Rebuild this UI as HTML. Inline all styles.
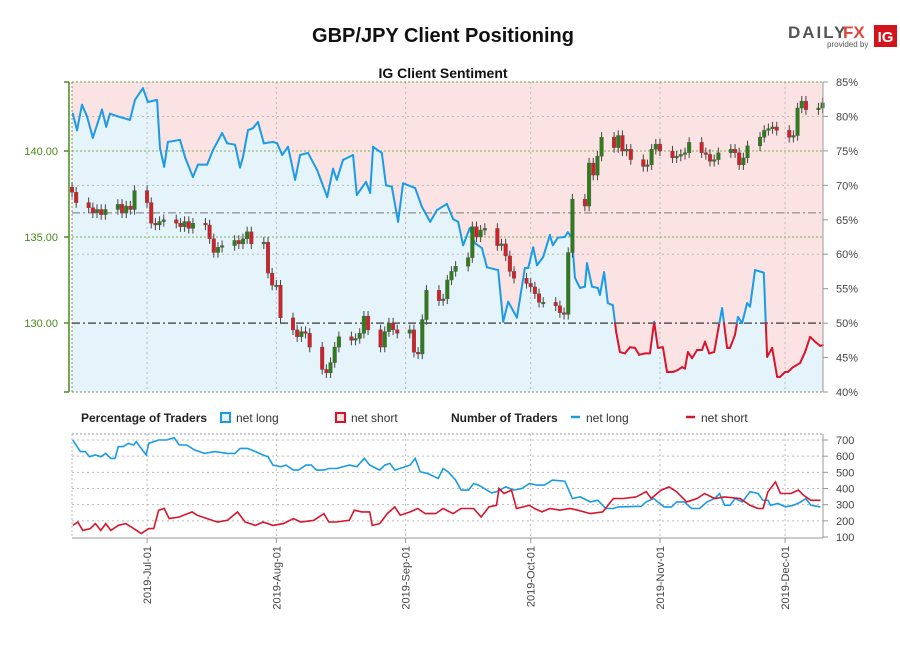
<!DOCTYPE html>
<html><head><meta charset="utf-8"><style>
body{margin:0;background:#fff;width:900px;height:650px;overflow:hidden;font-family:"Liberation Sans",sans-serif}
svg text{font-family:"Liberation Sans",sans-serif}
</style></head><body>
<svg id="c" width="900" height="650" viewBox="0 0 900 650">
<text x="443" y="42" text-anchor="middle" font-size="20" font-weight="bold" fill="#111">GBP/JPY Client Positioning</text>
<text x="443" y="78" text-anchor="middle" font-size="14" font-weight="bold" fill="#111">IG Client Sentiment</text>
<g>
<text x="788" y="38" font-size="17" font-weight="bold" fill="#555" letter-spacing="2">DAILY</text>
<text x="843" y="38" font-size="17" font-weight="bold" fill="#e0443a">FX</text>
<text x="827" y="47" font-size="8" fill="#555">provided by</text>
<rect x="874" y="25" width="23" height="22" fill="#d4141b"/>
<text x="885.5" y="42" text-anchor="middle" font-size="15" font-weight="bold" fill="#fff">IG</text>
</g>
<g id="main"></g>
<g id="legend">
<text x="81" y="422" font-size="12" font-weight="bold" fill="#222">Percentage of Traders</text>
<rect x="221" y="413" width="9" height="9" fill="#e5f3fb" stroke="#1a9be6" stroke-width="2"/>
<text x="236" y="422" font-size="12" fill="#333">net long</text>
<rect x="336" y="413" width="9" height="9" fill="#fbe3e4" stroke="#d9142b" stroke-width="2"/>
<text x="351" y="422" font-size="12" fill="#333">net short</text>
<text x="451" y="422" font-size="12" font-weight="bold" fill="#222">Number of Traders</text>
<line x1="571" y1="417" x2="580" y2="417" stroke="#1a9be6" stroke-width="2.5"/>
<text x="586" y="422" font-size="12" fill="#333">net long</text>
<line x1="686" y1="417" x2="695" y2="417" stroke="#d9142b" stroke-width="2.5"/>
<text x="701" y="422" font-size="12" fill="#333">net short</text>
</g>
<g id="bottom"></g>
</svg>
<script>
// ---- data ----
const sentDays=[0.2,1.2,2.4,3.6,5.0,7.2,8.2,9.1,11.0,13.9,15.1,17.0,18.2,20.4,21.1,22.1,23.0,25.9,27.1,29.0,30.2,32.4,33.8,36.0,37.2,39.1,40.3,41.0,42.2,43.4,44.6,46.0,48.2,49.2,50.4,51.8,53.5,54.7,56.6,58.8,61.2,62.6,63.5,65.0,67.4,68.3,70.5,71.5,72.2,74.3,75.3,76.7,78.2,79.4,82.3,83.9,85.9,87.5,89.9,91.4,92.6,93.8,95.4,96.6,98.3,99.5,102.2,103.4,104.6,106.7,108.6,109.4,110.6,111.5,113.0,114.6,115.3,116.5,118.2,118.9,119.9,120.6,121.8,123.0,123.5,124.7,126.1,126.6,127.6,128.5,129.7,130.5,131.4,132.6,133.8,135.0,136.0,137.4,138.6,139.6,140.5,141.7,142.7,144.1,145.3,146.3,147.0,147.7,148.7,149.9,151.1,151.8,152.8,154.0,155.9,157.1,157.8,159.0,159.7,160.7,161.9,162.6,163.8,165.5,165.9,166.7,167.9,169.1,169.8,171.0,171.7,172.9,174.6,175.8,177.0,178.2,179.4,180.1];
const sentLongPct=[80.4,78,81.7,80,76.9,81,78.5,80.4,80,79.5,82.4,84.1,82.1,82.4,75.4,72.7,76.3,76.6,74.1,71.2,73,73,75.1,77.6,76.1,75.9,72.6,74.1,78,78.3,79.2,76.1,76.3,76.1,74.4,75.6,70.8,74.4,74.7,72.2,68.3,72.4,70.8,73.7,74.4,68.6,70.5,68.9,75.6,74.7,70,69.8,64.7,70.3,69.6,66.9,64.7,66.4,67.3,65.1,64.7,61.3,63.8,61.6,60.9,58.1,57.7,50.2,53.1,50.8,58,58,61,58.4,59.6,62.8,61.3,62.4,62.5,63.2,62.4,56.6,55.1,55.3,58.7,55.3,55.1,54.1,57.4,52.9,52.6,48.7,45.8,45.6,46.5,46.4,45.4,45.6,45.6,50.2,46.4,46.5,42.9,42.9,43.2,43.6,43.4,45.8,44.9,46.1,46.1,47.3,45.6,45.8,52.2,46.4,46.4,48.3,50.9,50,52.9,52.4,57.7,57.4,57.3,45.1,46.4,42.2,42.2,42.9,42.9,43.6,44.2,45.8,48,47.3,46.7,46.8];
const closes=[137.6,137.0,
136.7,136.4,136.6,136.3,136.6, 136.9,136.4,136.8,136.6,137.7, 137.0,135.8,135.7,135.9,136.0,
135.8,135.6,135.9,135.5,135.8, 135.7,134.9,134.1,134.4,134.5, 134.8,134.6,134.9,135.3,134.6,
134.7,132.9,132.2,132.2,130.3, 129.6,129.2,129.5,129.4,128.6, 127.3,127.1,127.7,128.6,129.2,
129.0,129.1,129.4,130.4,129.6, 128.6,129.5,130.0,129.6,129.4, 129.6,128.3,128.2,130.2,131.9,
131.3,131.4,132.5,133.0,133.3, 133.8,135.6,135.0,135.4,135.5, 134.5,134.6,133.9,133.0,132.6,
132.3,132.1,131.7,131.2,131.2, 131.0,130.6,130.5,134.1,137.2, 136.8,139.3,138.6,139.7,140.8,
140.2,140.9,140.0,140.1,139.5, 139.1,139.2,140.1,140.4,140.0, 139.6,139.7,139.8,139.9,140.5,
139.9,139.8,139.4,139.5,139.9, 140.1,139.9,139.2,139.6,140.3, 140.8,141.2,141.3,141.4,141.2,
140.8,140.9,142.5,142.9,142.4, 142.5,142.8];
const firstOpen=137.9;
const longDays=[0.2,2.0,3.2,4.2,5.6,6.9,8.1,9.3,10.3,11.1,12.3,13.5,14.8,15.4,16.6,17.8,18.4,19.6,20.8,22.7,24.5,25.7,27.5,29.4,31.8,34.2,37.3,39.1,40.3,42.1,44.0,45.8,47.0,48.2,50.1,51.3,53.1,54.3,56.1,57.4,58.6,60.4,61.6,63.4,66.5,68.3,70.1,71.4,73.8,75.0,76.2,77.4,79.9,81.1,82.3,83.5,85.3,87.8,89.0,90.2,92.0,93.3,95.1,96.3,97.5,100.6,101.8,104.0,106.0,107.9,109.7,111.5,113.3,115.2,118.2,120.0,121.9,124.3,126.1,128.0,129.8,131.0,136.5,137.7,139.5,142.0,143.8,145.0,146.8,148.6,150.5,152.3,154.1,155.3,156.5,157.8,159.0,160.8,162.6,164.5,165.7,166.9,167.5,169.3,171.1,173.0,174.8,176.0,177.2,179.5];
const longCount=[700,628,628,597,607,597,617,586,586,659,659,679,669,690,648,607,679,690,700,700,714,669,669,638,617,628,617,617,648,648,628,607,597,545,535,545,514,514,545,545,514,514,524,524,545,535,586,545,514,545,555,514,535,545,586,503,493,462,524,503,452,390,390,431,421,373,380,410,390,400,431,421,421,452,445,338,348,317,327,276,276,286,290,317,338,286,286,317,317,276,276,317,338,369,296,296,338,317,380,369,327,327,296,307,286,296,317,338,296,286];
const shortDays=[0.2,1.4,2.6,4.4,5.6,6.9,8.1,9.3,11.1,12.9,14.8,16.6,18.4,19.6,20.8,22.1,23.3,25.7,28.8,30.0,32.4,34.9,37.3,39.7,41.5,44.0,45.8,48.2,50.7,53.1,54.9,58.0,60.4,61.6,63.4,66.5,67.7,69.5,71.4,72.0,73.8,75.6,77.4,78.7,81.1,82.9,84.7,87.2,89.0,91.4,93.3,96.3,98.1,100.0,101.8,102.4,103.6,105.4,106.6,109.7,110.9,112.7,114.6,117.0,119.4,121.3,124.3,127.3,129.8,132.2,135.3,137.7,138.9,141.3,143.2,145.0,147.4,149.9,151.7,154.1,156.5,160.2,162.6,164.5,165.7,166.9,168.7,169.9,172.4,174.2,175.4,177.2,179.5];
const shortCount=[172,193,141,152,183,141,183,141,172,183,152,121,152,152,266,276,214,224,255,235,214,193,203,255,193,172,193,172,183,214,193,203,245,193,193,203,266,255,255,172,183,245,286,235,255,276,245,245,276,245,276,276,224,286,296,400,369,390,276,296,276,255,276,266,276,266,245,255,338,338,348,380,338,390,410,380,317,338,369,338,348,338,296,276,276,380,441,369,369,390,359,327,327];
const priceTicks=[140,135,130];
const pctTicks=[85,80,75,70,65,60,55,50,45,40];
const countTicks=[700,600,500,400,300,200,100];
const monthDays=[18,49,80,110,141,171];
const monthLabels=["2019-Jul-01","2019-Aug-01","2019-Sep-01","2019-Oct-01","2019-Nov-01","2019-Dec-01"];

// ---- scales ----
const X0=72,X1=823,DPX=4.17;
const xd=d=>X0+d*DPX;
const yPct=p=>82+(85-p)*310/45;
const yPx=v=>151+(140-v)*17.2;
const yCnt=v=>537-(v-100)*97/600;
const NS="http://www.w3.org/2000/svg";
function mk(tag,attrs,parent){const e=document.createElementNS(NS,tag);for(const k in attrs)e.setAttribute(k,attrs[k]);parent.appendChild(e);return e;}
const main=document.getElementById('main'),bot=document.getElementById('bottom');

// background
let bg=mk('rect',{x:X0,y:82,width:X1-X0,height:310,fill:'#fbe3e4'},main);


let pts=sentDays.map((d,i)=>xd(d).toFixed(1)+','+yPct(sentLongPct[i]).toFixed(1));
let area=mk('polygon',{points:xd(sentDays[0])+',392 '+pts.join(' ')+' '+xd(sentDays[sentDays.length-1])+',392 '+X0+',392 '+X0+','+yPct(sentLongPct[0]),fill:'#e5f3fb'},main);



// grid
pctTicks.forEach(p=>{if(p%10===0&&p!==50&&p!==40){const l=mk('line',{x1:X0,x2:X1,y1:yPct(p),y2:yPct(p),stroke:'#bbb','stroke-dasharray':'2,3'},main);}});
priceTicks.forEach(v=>{if(v!==130){const l=mk('line',{x1:X0,x2:X1,y1:yPx(v),y2:yPx(v),stroke:'#7ab04a','stroke-dasharray':'2,2'},main);}});
monthDays.forEach(d=>{const l=mk('line',{x1:xd(d),x2:xd(d),y1:82,y2:392,stroke:'#bbb','stroke-dasharray':'2,3'},main);});
let b1=mk('line',{x1:X0,x2:X1,y1:82,y2:82,stroke:'#7a9a50','stroke-dasharray':'2,2'},main);

let b2=mk('line',{x1:X0,x2:X1,y1:392,y2:392,stroke:'#7a9a50','stroke-dasharray':'2,2'},main);

let b3=mk('line',{x1:X0,x2:X0,y1:82,y2:392,stroke:'#7a9a50','stroke-dasharray':'2,2'},main);

let r65=mk('line',{x1:X0,x2:X1,y1:yPct(66),y2:yPct(66),stroke:'#777','stroke-dasharray':'8,3,2,3'},main);

let r50=mk('line',{x1:X0,x2:X1,y1:yPct(50),y2:yPct(50),stroke:'#555','stroke-width':1.5,'stroke-dasharray':'8,3,2,3'},main);


// sentiment line split at 50
for(let i=0;i<sentDays.length-1;i++){
  const a=sentLongPct[i],b=sentLongPct[i+1],xa=xd(sentDays[i]),xb=xd(sentDays[i+1]);
  const segs=[];
  if((a-50)*(b-50)<0){const t=(50-a)/(b-a);const xm=xa+t*(xb-xa);segs.push([xa,a,xm,50,a>=50]);segs.push([xm,50,xb,b,b>=50]);}
  else segs.push([xa,a,xb,b,(a+b)/2>=50]);
  segs.forEach(s=>{const l=mk('line',{x1:s[0],y1:yPct(s[1]),x2:s[2],y2:yPct(s[3]),stroke:s[4]?'#1a9be6':'#d9142b','stroke-width':2,'stroke-linecap':'round'},main);
  
  });
}

// candles
const start=new Date(2019,5,13);let ci=0;
for(let d=0;d<185&&ci<closes.length;d++){
  const dt=new Date(2019,5,13+d);const wd=dt.getDay();if(wd===0||wd===6)continue;
  const o=ci===0?firstOpen:closes[ci-1],c=closes[ci];
  const x=xd(d),hi=Math.max(o,c)+0.3,lo=Math.min(o,c)-0.3;
  const w=mk('line',{x1:x,x2:x,y1:yPx(hi),y2:yPx(lo),stroke:'#444','stroke-width':1},main);
  
  
  const top=yPx(Math.max(o,c)),h=Math.max(1.5,Math.abs(yPx(o)-yPx(c)));
  const r=mk('rect',{x:x-1.8,y:top,width:3.6,height:h,fill:c>=o?'#2e7d18':'#d42027',stroke:'#555','stroke-width':0.4},main);
  
  
  ci++;
}

// axes main
let la=mk('line',{x1:69,x2:69,y1:82,y2:392,stroke:'#4a8a1c','stroke-width':1.5},main);

[82,392].forEach(y=>{const t=mk('line',{x1:64,x2:69,y1:y,y2:y,stroke:'#4a8a1c','stroke-width':1.5},main);});
priceTicks.forEach(v=>{const t=mk('line',{x1:64,x2:69,y1:yPx(v),y2:yPx(v),stroke:'#4a8a1c','stroke-width':1.5},main);
 const tx=mk('text',{x:58,y:yPx(v)+4,'text-anchor':'end','font-size':11,fill:'#4a8a1c'},main);tx.textContent=v.toFixed(2);});
let ra=mk('line',{x1:X1,x2:X1,y1:82,y2:392,stroke:'#999'},main);

pctTicks.forEach(p=>{const t=mk('line',{x1:X1,x2:X1+5,y1:yPct(p),y2:yPct(p),stroke:'#999'},main);
 const tx=mk('text',{x:836,y:yPct(p)+4,'font-size':11,fill:'#444'},main);tx.textContent=p+'%';});

// bottom panel
countTicks.forEach(v=>{if(v!==100){const l=mk('line',{x1:X0,x2:X1,y1:yCnt(v),y2:yCnt(v),stroke:'#bbb','stroke-dasharray':'2,3'},bot);}
 const t=mk('line',{x1:X1,x2:X1+5,y1:yCnt(v),y2:yCnt(v),stroke:'#999'},bot);
 const tx=mk('text',{x:836,y:yCnt(v)+4,'font-size':11,fill:'#444'},bot);tx.textContent=v;});
let bt=mk('line',{x1:X0,x2:X1,y1:434,y2:434,stroke:'#999','stroke-dasharray':'2,2'},bot);

let bl=mk('line',{x1:X0,x2:X0,y1:434,y2:538,stroke:'#bbb','stroke-dasharray':'2,2'},bot);

let bb=mk('line',{x1:X0,x2:X1,y1:538,y2:538,stroke:'#999'},bot);

let br=mk('line',{x1:X1,x2:X1,y1:434,y2:538,stroke:'#999'},bot);

monthDays.forEach((d,i)=>{const l=mk('line',{x1:xd(d),x2:xd(d),y1:434,y2:538,stroke:'#bbb','stroke-dasharray':'2,3'},bot);
 const t=mk('line',{x1:xd(d),x2:xd(d),y1:538,y2:543,stroke:'#999'},bot);
 const tx=mk('text',{x:0,y:0,'text-anchor':'end','font-size':11,fill:'#444',transform:'translate('+(xd(d)+4)+',546) rotate(-90)'},bot);tx.textContent=monthLabels[i];});
let pl=mk('polyline',{points:longDays.map((d,i)=>xd(d).toFixed(1)+','+yCnt(longCount[i]).toFixed(1)).join(' '),fill:'none',stroke:'#1a9be6','stroke-width':1.6},bot);

let ps=mk('polyline',{points:shortDays.map((d,i)=>xd(d).toFixed(1)+','+yCnt(shortCount[i]).toFixed(1)).join(' '),fill:'none',stroke:'#d9142b','stroke-width':1.6},bot);

</script>
</body></html>
